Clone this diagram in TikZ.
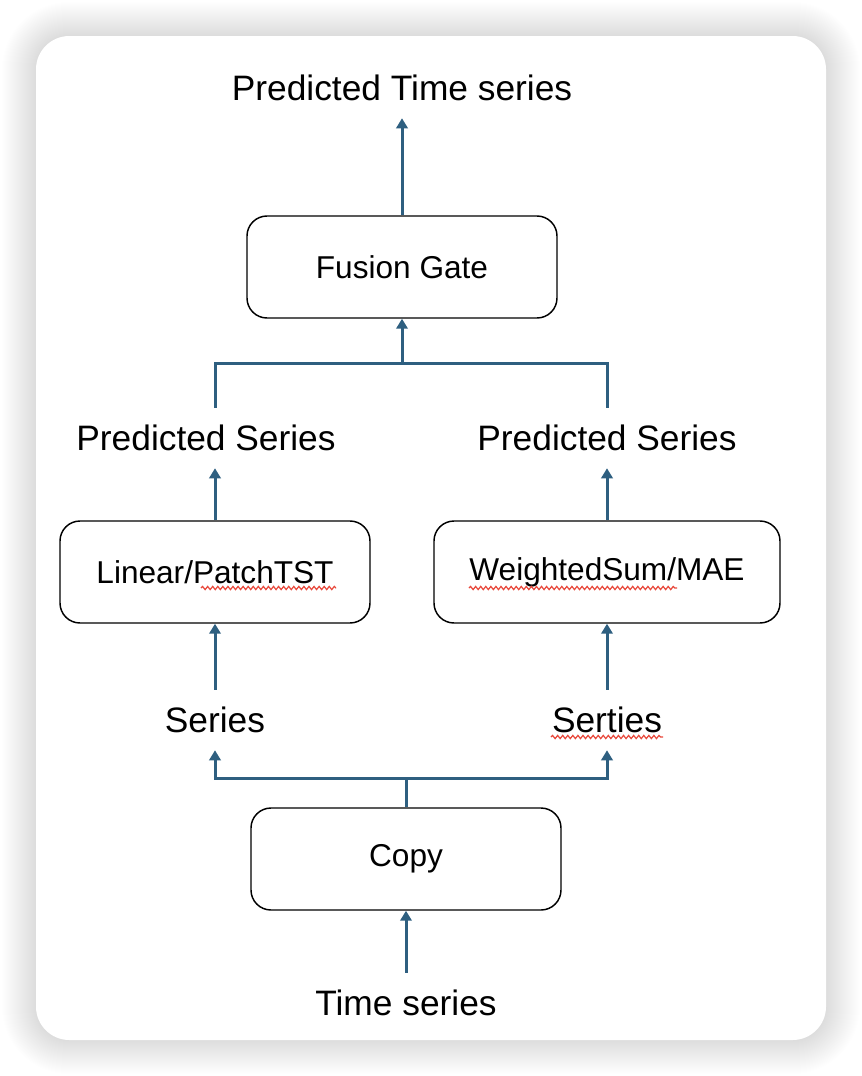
\documentclass[tikz,border=0pt]{standalone}
\usepackage{fontspec}
\setmainfont{Liberation Sans}
\usetikzlibrary{shapes,arrows.meta,positioning,calc,decorations.pathmorphing}
\definecolor{flowblue}{RGB}{46,95,128}
\definecolor{spellred}{RGB}{232,72,59}

\begin{document}
\begin{tikzpicture}[x=0.75pt,y=-0.75pt,on grid]

  \tikzset{block node/.style={rectangle, draw, line width=1.1pt,
  		rounded corners=15pt, minimum width=232.5pt, minimum height=76.5pt,
  		text centered, font=\fontsize{23.7}{28}\selectfont}, }
  \tikzset{text node/.style={inner sep=0pt, minimum height=45pt,
  		text height=19.2pt, text depth=0pt, font=\fontsize{26.5}{32}\selectfont}, }
  \tikzset{flow/.style={draw=flowblue, line width=2.25pt, -{Triangle[width=8.5pt,length=7.5pt]}}, }
  \tikzset{flow line/.style={draw=flowblue, line width=2.25pt}, }
  \tikzset{wavy/.style={draw=spellred, line width=0.9pt, decorate,
  		decoration={snake, segment length=3.8pt, amplitude=1.2pt}}, }
\useasboundingbox (0,0) rectangle (862,1076);
\fill[white] (0,0) rectangle (862,1076);
\foreach \k in {1,...,34}{
  \pgfmathsetmacro\rad{(33+\k)*0.75}
  \fill[black, opacity=0.005, rounded corners=\rad pt] (36-\k,36-\k) rectangle (826+\k,1040+\k);
}
\fill[white, rounded corners=25pt] (36,36) rectangle (826,1040);
%%
\node[block node] (1) at (406,859) {Copy};
\node[text node] (2) [below=108pt of 1] {Time series};
\node[text node] (3) [above left=104.25pt and 143.25pt of 1] {Series};
\node[text node] (4) [right=294pt of 3] {Serties};
\node[block node] (5) [above=111pt of 3] {Linear/PatchTST};
\node[block node, minimum width=259.5pt] (6) [above=111pt of 4] {WeightedSum/MAE};
\node[text node] (7) [above=100.5pt of 5, xshift=-6.75pt] {Predicted Series};
\node[text node] (8) [above=100.5pt of 6] {Predicted Series};
\node[block node] (9) [above=444pt of 1, xshift=-3pt] {Fusion Gate};
\node[text node] (10) [above=134.25pt of 9] {Predicted Time series};
\coordinate (m1) at ($(9.south)!0.5!(9.south |- 7.north)$);
\coordinate (m2) at ($(1.north)!0.5!(1.north |- 3.south)$);
\draw[flow] (2) -- (1);
\draw[flow line] (1.north) -- (m2);
\foreach \y in {3,4}
  \draw[flow] (m2) -| (\y.south);
\draw[flow] (3) -- (5);
\draw[flow] (4) -- (6);
\draw[flow] (5.north) -- (5.north |- 7.south);
\draw[flow] (6.north) -- (6.north |- 8.south);
\draw[flow line] (5.north |- 7.north) |- (m1) -| (6.north |- 8.north);
\draw[flow] (m1) -- (9.south);
\draw[flow] (9) -- (10);
%%
\draw[wavy] ([shift={(-14,16)}]5.center) -- ++(135,0);
\draw[wavy] ([shift={(-138,16)}]6.center) -- ++(208,0);
\draw[wavy] ([shift={(-56,17)}]4.center) -- ++(112,0);
\end{tikzpicture}
\end{document}
